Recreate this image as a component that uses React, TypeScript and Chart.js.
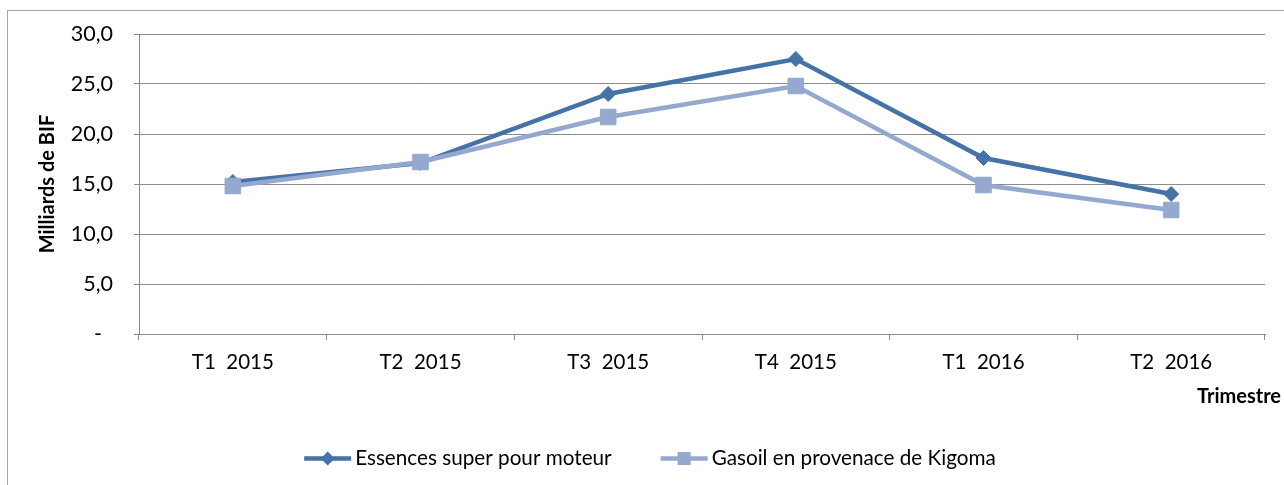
import React, { useEffect, useRef } from 'react';
import { Chart, registerables } from 'chart.js';

Chart.register(...registerables);

const categories = ['T1  2015', 'T2  2015', 'T3  2015', 'T4  2015', 'T1  2016', 'T2  2016'];
const essencesValues = [15.2, 17.1, 24.0, 27.5, 17.6, 14.0];
const gasoilValues = [14.8, 17.2, 21.7, 24.8, 14.9, 12.4];
const seriesNames = ['Essences super pour moteur', 'Gasoil en provenace de Kigoma'];
const yTickValues = [0, 5, 10, 15, 20, 25, 30];
const yTickLabels = ['-  ', '5,0', '10,0', '15,0', '20,0', '25,0', '30,0'];
const yAxisTitle = 'Milliards de BIF';
const xAxisTitle = 'Trimestre';

const DARK = '#4572A7';
const LIGHT = '#94A8D0';
const GRID = '#8C8C8C';
const FONT = 'Lato, "Noto Sans", sans-serif';

const W = 1284;
const H = 485;

const decorPlugin = {
  id: 'decor',
  beforeDraw(chart: any) {
    const ctx = chart.ctx;
    ctx.save();
    ctx.fillStyle = '#ffffff';
    ctx.fillRect(0, 0, W, H);
    ctx.strokeStyle = '#A6A6A6';
    ctx.lineWidth = 1;
    ctx.strokeRect(7.5, 10.5, 1400, 600);
    ctx.restore();
  },
  afterDraw(chart: any) {
    const ctx = chart.ctx;
    ctx.save();
    // x axis title
    ctx.fillStyle = '#000';
    ctx.font = `bold 20px ${FONT}`;
    ctx.textAlign = 'right';
    ctx.textBaseline = 'middle';
    ctx.fillText(xAxisTitle, 1281, 397);

    // legend
    ctx.font = `20.7px ${FONT}`;
    const lineW = 47;
    const gap = 4;
    const itemGap = 49;
    const ds = chart.data.datasets;
    const widths = ds.map((d: any) => ctx.measureText(d.label).width);
    const total = widths.reduce((a: number, w: number) => a + lineW + gap + w, 0) + itemGap * (ds.length - 1);
    let x = 650 - total / 2;
    const y = 458.5;
    ds.forEach((d: any, i: number) => {
      ctx.strokeStyle = d.borderColor;
      ctx.lineWidth = 4.5;
      ctx.beginPath();
      ctx.moveTo(x, y);
      ctx.lineTo(x + lineW, y);
      ctx.stroke();
      const cx = x + lineW / 2;
      ctx.fillStyle = d.borderColor;
      ctx.beginPath();
      if (d.pointStyle === 'rectRot') {
        const r = 7;
        ctx.moveTo(cx - r, y);
        ctx.lineTo(cx, y - r);
        ctx.lineTo(cx + r, y);
        ctx.lineTo(cx, y + r);
        ctx.closePath();
      } else {
        const s = 6.5;
        ctx.rect(cx - s, y - s, 2 * s, 2 * s);
      }
      ctx.fill();
      ctx.fillStyle = '#000';
      ctx.textAlign = 'left';
      ctx.textBaseline = 'middle';
      ctx.fillText(d.label, x + lineW + gap, y);
      x += lineW + gap + widths[i] + itemGap;
    });
    ctx.restore();
  },
};

export default function App() {
  const ref = useRef<HTMLCanvasElement | null>(null);

  useEffect(() => {
    if (!ref.current) return;
    const chart = new Chart(ref.current, {
      type: 'line',
      data: {
        labels: categories,
        datasets: [
          {
            label: seriesNames[0],
            data: essencesValues,
            borderColor: DARK,
            backgroundColor: DARK,
            borderWidth: 4.5,
            pointStyle: 'rectRot',
            pointRadius: 7.5,
            pointBorderWidth: 1,
            pointBackgroundColor: DARK,
            pointBorderColor: DARK,
            tension: 0,
            order: 1,
          },
          {
            label: seriesNames[1],
            data: gasoilValues,
            borderColor: LIGHT,
            backgroundColor: LIGHT,
            borderWidth: 4.5,
            pointStyle: 'rect',
            pointRadius: 11,
            pointBorderWidth: 1,
            pointBackgroundColor: LIGHT,
            pointBorderColor: LIGHT,
            tension: 0,
            order: 0,
          },
        ],
      },
      options: {
        responsive: false,
        animation: false,
        devicePixelRatio: 1,
        layout: { padding: { top: 34, right: 19, left: 0, bottom: 0 } },
        plugins: {
          legend: { display: false },
          tooltip: { enabled: false },
        },
        scales: {
          x: {
            type: 'category',
            offset: true,
            grid: {
              offset: true,
              drawOnChartArea: false,
              drawTicks: true,
              tickLength: 6,
              color: GRID,
              lineWidth: 1,
            },
            border: { display: true, color: GRID, width: 1 },
            ticks: {
              color: '#000',
              font: { family: FONT, size: 20.5 },
              padding: 10,
              maxRotation: 0,
              autoSkip: false,
            },
            afterFit: (s: any) => {
              s.height = H - 334;
            },
          },
          y: {
            min: 0,
            max: 30,
            afterBuildTicks: (s: any) => {
              s.ticks = yTickValues.map((v) => ({ value: v }));
            },
            ticks: {
              color: '#000',
              font: { family: FONT, size: 21.5 },
              padding: 21,
              callback: (v: any) => {
                const i = yTickValues.indexOf(Number(v));
                return i >= 0 ? yTickLabels[i] : '';
              },
            },
            grid: { color: GRID, lineWidth: 1, tickLength: 5 },
            border: { display: true, color: GRID, width: 1 },
            title: {
              display: true,
              text: yAxisTitle,
              color: '#000',
              font: { family: FONT, size: 20, weight: 'bold' },
              padding: { top: 36, bottom: 0 },
            },
            afterFit: (s: any) => {
              s.width = 139;
            },
          },
        },
      },
      plugins: [decorPlugin],
    } as any);
    return () => chart.destroy();
  }, []);

  return (
    <div style={{ position: 'fixed', left: 0, top: 0, width: W, height: H, overflow: 'hidden', background: '#fff' }}>
      <canvas ref={ref} width={W} height={H} style={{ display: 'block', width: W, height: H }} />
    </div>
  );
}
